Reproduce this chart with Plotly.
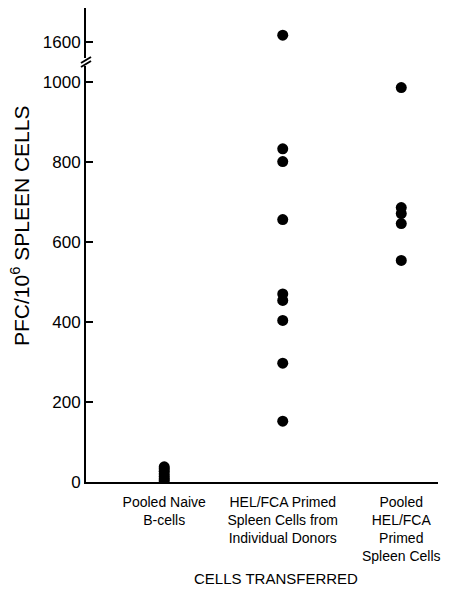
import plotly.graph_objects as go

# ---- data ----
categories = ["Pooled Naive<br>B-cells",
              "HEL/FCA Primed<br>Spleen Cells from<br>Individual Donors",
              "Pooled<br>HEL/FCA<br>Primed<br>Spleen Cells"]
naive_pooled = [3, 8, 14, 20, 27, 33, 38]
primed_individual = [1617, 833, 801, 656, 470, 454, 404, 297, 152]
primed_pooled = [986, 686, 671, 646, 554]
lower_ticks = [0, 200, 400, 600, 800, 1000]
upper_ticks = [1600]
break_value = 1040

groups = [naive_pooled, primed_individual, primed_pooled]

FONT = "Liberation Sans, Arial, Helvetica, sans-serif"
OFF = 8  # page body margin
W, H = 449 - OFF, 594 - 2 * OFF
L, R, T, B = 78, 11, 0, 104
plot_h = H - T - B
plot_w = W - L - R
PAGE_BOTTOM = H - B + OFF   # page y of plot bottom
PAGE_LEFT = L + OFF

def py(px):
    return (PAGE_BOTTOM - px) / plot_h

def pxr(px):
    return (px - PAGE_LEFT) / plot_w

fig = go.Figure()
marker = dict(color="black", size=11, line=dict(width=0))
for i, vals in enumerate(groups):
    low = [v for v in vals if v <= break_value]
    high = [v for v in vals if v > break_value]
    fig.add_trace(go.Scatter(x=[i] * len(low), y=low, mode="markers",
                             marker=marker, xaxis="x", yaxis="y",
                             showlegend=False, hoverinfo="y"))
    if high:
        fig.add_trace(go.Scatter(x=[i] * len(high), y=high, mode="markers",
                                 marker=marker, xaxis="x", yaxis="y2",
                                 showlegend=False, hoverinfo="y"))

low_top = py(66)
up_bot = py(58)

axis_common = dict(showline=True, linecolor="black", linewidth=2,
                   ticks="inside", ticklen=7, tickwidth=2, tickcolor="black",
                   showgrid=False, zeroline=False,
                   tickfont=dict(family=FONT, size=17, color="black"))

fig.update_layout(
    width=W, height=H,
    margin=dict(l=L, r=R, t=T, b=B),
    paper_bgcolor="white", plot_bgcolor="white",
    xaxis=dict(range=[-0.66, 2.31], tickvals=[0, 1, 2], ticktext=categories,
               showline=True, linecolor="black", linewidth=2, ticks="",
               showgrid=False, zeroline=False, anchor="y",
               ticklabelstandoff=6,
               tickfont=dict(family=FONT, size=14, color="black")),
    yaxis=dict(domain=[0, low_top], range=[0, break_value],
               tickvals=lower_ticks, anchor="x", **axis_common),
    yaxis2=dict(domain=[up_bot, 1], range=[1560, 1685],
                tickvals=upper_ticks, anchor="x", **axis_common),
    annotations=[
        dict(text="PFC/10<sup>6</sup> SPLEEN CELLS", xref="paper", yref="paper",
             x=pxr(20), y=py(226), textangle=-90, showarrow=False,
             font=dict(family=FONT, size=21, color="black"),
             xanchor="center", yanchor="middle"),
        dict(text="CELLS TRANSFERRED", xref="paper", yref="paper",
             x=pxr(276), y=py(578), showarrow=False,
             font=dict(family=FONT, size=15, color="black"),
             xanchor="center", yanchor="middle"),
    ],
    shapes=[
        dict(type="line", xref="paper", yref="paper",
             x0=pxr(81), y0=py(63), x1=pxr(91), y1=py(57),
             line=dict(color="black", width=2)),
        dict(type="line", xref="paper", yref="paper",
             x0=pxr(81), y0=py(67), x1=pxr(91), y1=py(61),
             line=dict(color="black", width=2)),
    ],
)

fig.write_html("out.html")
